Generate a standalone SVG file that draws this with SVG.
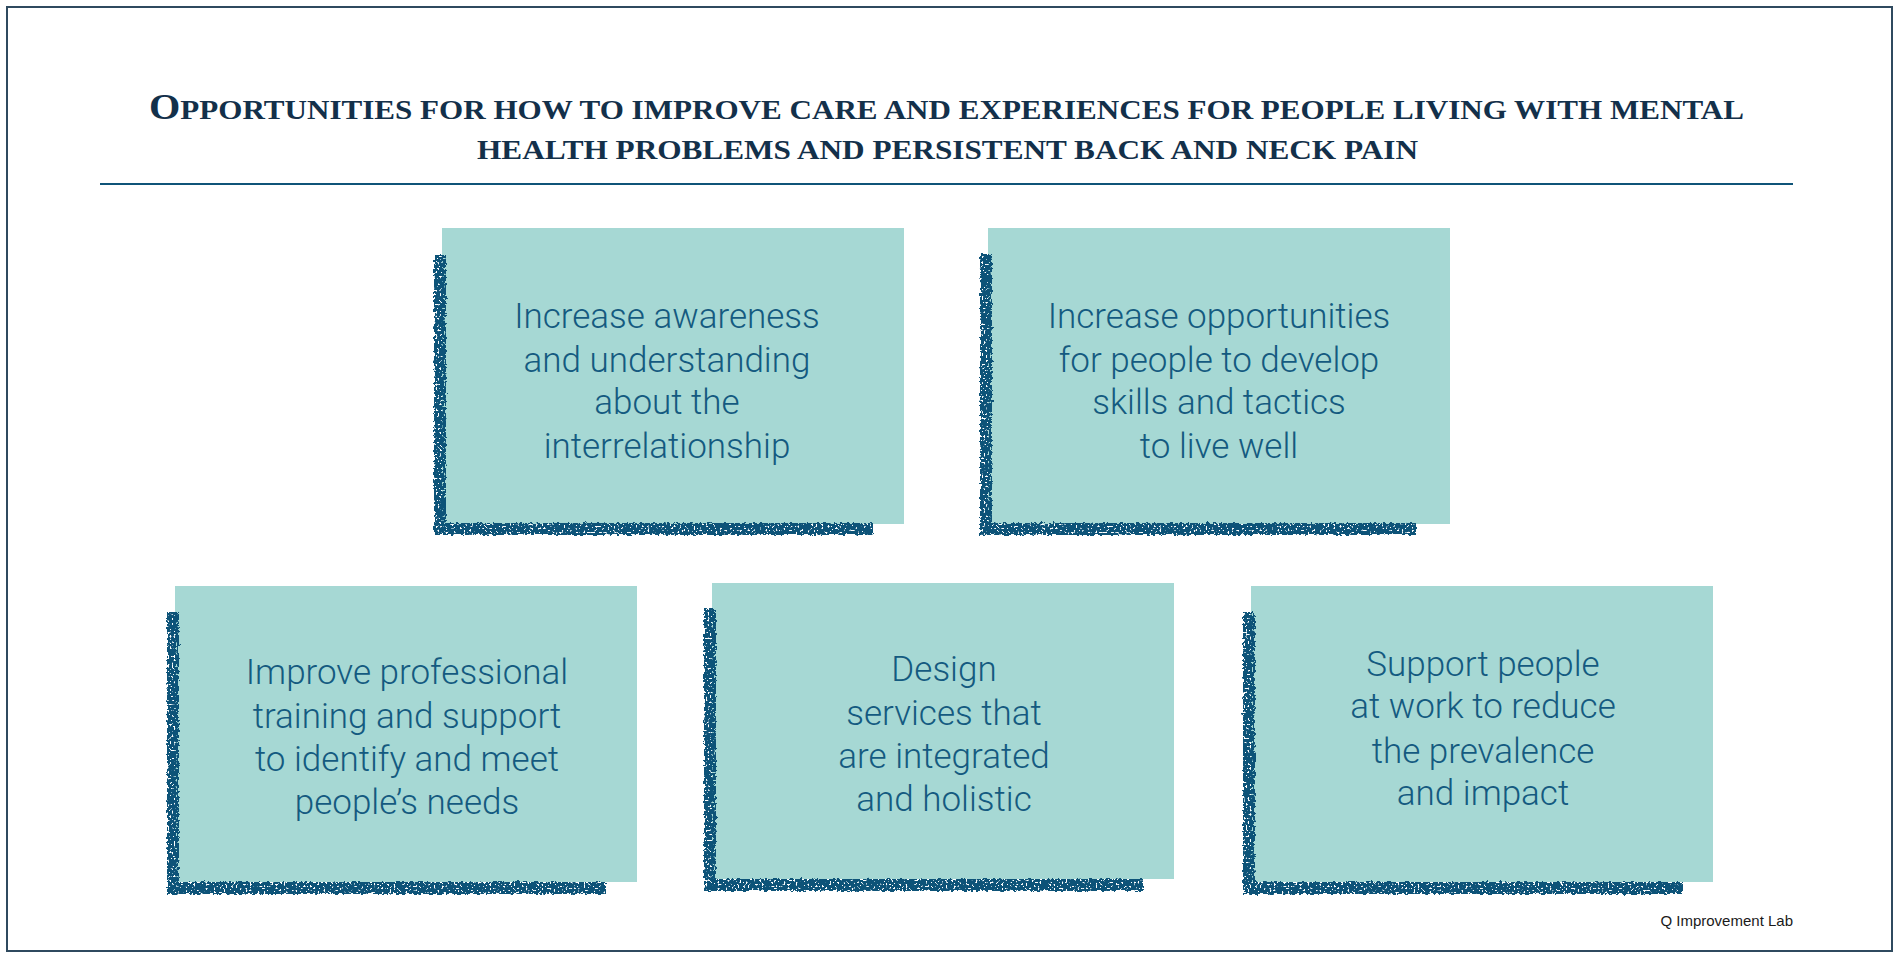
<svg xmlns="http://www.w3.org/2000/svg" width="1900" height="960" viewBox="0 0 1900 960">
<defs>
<style>
.title{font-family:"Liberation Serif","Times New Roman",serif;font-weight:bold;fill:#13304a;}
.box{fill:#a6d8d4;}
.band{fill:none;stroke:#0a5278;stroke-width:12;stroke-linejoin:miter;filter:url(#rough);}
.lbl{font-family:Roboto,"Liberation Sans",sans-serif;font-weight:300;font-size:35px;fill:#145a80;text-anchor:middle;}
.foot{font-family:"Liberation Sans",Arial,sans-serif;font-size:15px;fill:#1a1a1a;text-anchor:end;}
</style>
<filter id="rough" x="-5%" y="-5%" width="110%" height="110%">
<feTurbulence type="fractalNoise" baseFrequency="0.3" numOctaves="2" seed="4" result="n"/>
<feDisplacementMap in="SourceGraphic" in2="n" scale="5" xChannelSelector="R" yChannelSelector="G" result="d"/>
<feTurbulence type="fractalNoise" baseFrequency="0.5" numOctaves="1" seed="9" result="n2"/>
<feColorMatrix in="n2" type="matrix" values="0 0 0 0 0  0 0 0 0 0  0 0 0 0 0  0 0 0 -14 9.6" result="m"/>
<feComposite in="d" in2="m" operator="in"/>
</filter>
</defs>
<rect x="7" y="7" width="1885" height="944" fill="#ffffff" stroke="#2f4a5f" stroke-width="2"/>
<g id="title">
<text class="title" x="149" y="119" textLength="1595" lengthAdjust="spacingAndGlyphs"><tspan font-size="35">O</tspan><tspan font-size="27">PPORTUNITIES FOR HOW TO IMPROVE CARE AND EXPERIENCES FOR PEOPLE LIVING WITH MENTAL</tspan></text>
<text class="title" x="477" y="159" font-size="27" textLength="941" lengthAdjust="spacingAndGlyphs">HEALTH PROBLEMS AND PERSISTENT BACK AND NECK PAIN</text>
<line x1="100" y1="184" x2="1793" y2="184" stroke="#0f5478" stroke-width="2"/>
</g>
<g id="connectors"></g>
<g id="node1">
<rect class="box" x="442" y="228" width="462" height="296"/>
<path class="band" d="M440,254 L440,529 L873,529"/>
<text class="lbl" x="667" y="328">Increase awareness</text>
<text class="lbl" x="667" y="372">and understanding</text>
<text class="lbl" x="667" y="414">about the</text>
<text class="lbl" x="667" y="458">interrelationship</text>
</g>
<g id="node2">
<rect class="box" x="988" y="228" width="462" height="296"/>
<path class="band" d="M986,254 L986,529 L1416,529"/>
<text class="lbl" x="1219" y="328">Increase opportunities</text>
<text class="lbl" x="1219" y="372">for people to develop</text>
<text class="lbl" x="1219" y="414">skills and tactics</text>
<text class="lbl" x="1219" y="458">to live well</text>
</g>
<g id="node3">
<rect class="box" x="175" y="586" width="462" height="296"/>
<path class="band" d="M173,612 L173,888 L606,888"/>
<text class="lbl" x="407" y="684">Improve professional</text>
<text class="lbl" x="407" y="728">training and support</text>
<text class="lbl" x="407" y="771">to identify and meet</text>
<text class="lbl" x="407" y="814">people’s needs</text>
</g>
<g id="node4">
<rect class="box" x="712" y="583" width="462" height="296"/>
<path class="band" d="M710,609 L710,885 L1143,885"/>
<text class="lbl" x="944" y="681">Design</text>
<text class="lbl" x="944" y="725">services that</text>
<text class="lbl" x="944" y="768">are integrated</text>
<text class="lbl" x="944" y="811">and holistic</text>
</g>
<g id="node5">
<rect class="box" x="1251" y="586" width="462" height="296"/>
<path class="band" d="M1249,612 L1249,888 L1683,888"/>
<text class="lbl" x="1483" y="676">Support people</text>
<text class="lbl" x="1483" y="718">at work to reduce</text>
<text class="lbl" x="1483" y="763">the prevalence</text>
<text class="lbl" x="1483" y="805">and impact</text>
</g>
<text class="foot" x="1793" y="926">Q Improvement Lab</text>
</svg>
